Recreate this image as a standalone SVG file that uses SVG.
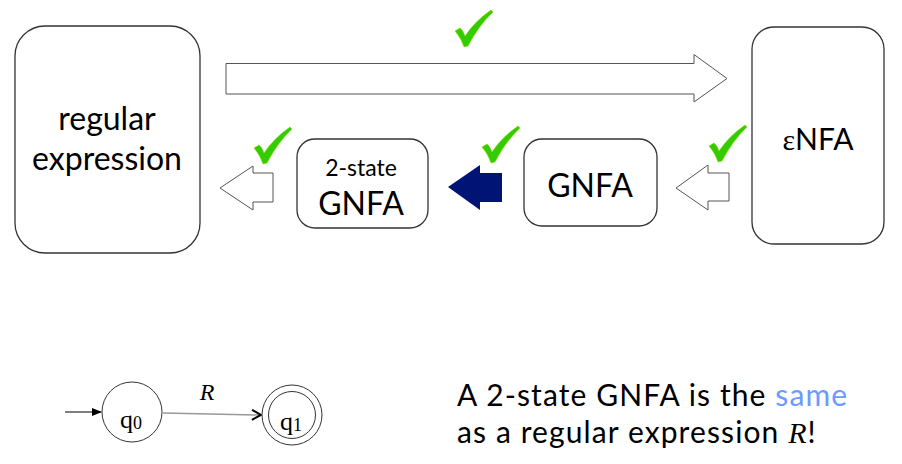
<svg xmlns="http://www.w3.org/2000/svg" width="902" height="464" viewBox="0 0 902 464">
<style>
.box{fill:#fff;stroke:#333;stroke-width:1.3}
.big{font-family:Lato,"Open Sans","Liberation Sans",sans-serif;font-size:32px;fill:#000;text-anchor:middle}
.small{font-size:23px}
.mid{font-size:30px}
.hollow{fill:#fff;stroke:#555;stroke-width:1}
.chk{fill:#3c0;stroke:#8d0;stroke-width:0.6}
.serif{font-family:"Liberation Serif","DejaVu Serif",serif;fill:#000}
.body{font-family:Lato,"Open Sans","Liberation Sans",sans-serif;font-size:30px;letter-spacing:1.1px;fill:#000}
</style>
<defs>
<path id="check" d="M0,21 L5,18 Q8,20 10,26 Q20,11 36,0 L38,2 Q24,15 13,36 L9,37 Q6,28 0,21 Z"/>
<marker id="tri" markerWidth="10" markerHeight="8" refX="9" refY="4" orient="auto" markerUnits="userSpaceOnUse">
<path d="M0,0 L10,4 L0,8 Z" fill="#000"/>
</marker>
<marker id="chev" markerWidth="12" markerHeight="12" refX="10" refY="6" orient="auto" markerUnits="userSpaceOnUse">
<path d="M1,1 L10,6 L1,11" fill="none" stroke="#000" stroke-width="2"/>
</marker>
</defs>
<rect width="902" height="464" fill="#fff"/>

<g id="connectors">
<path class="hollow" d="M226,63.5 L694,63.5 L694,54.5 L727,78.5 L694,102 L694,94 L226,94 Z"/>
<path class="hollow" d="M220,188 L253,166 L253,173 L273,173 L273,202 L253,202 L253,210 Z"/>
<path d="M448,187 L480,165 L480,173 L502,173 L502,202 L480,202 L480,210 Z" fill="#001475"/>
<path class="hollow" d="M676,188 L708,165 L708,173 L729,173 L729,201 L708,201 L708,210 Z"/>
<line x1="65" y1="412" x2="101" y2="412" stroke="#000" stroke-width="1.2" marker-end="url(#tri)"/>
<line x1="163" y1="413" x2="261" y2="415" stroke="#999" stroke-width="1.5" marker-end="url(#chev)"/>
<text class="serif" x="207" y="400" font-size="24" font-style="italic" text-anchor="middle">R</text>
</g>

<g id="checks">
<use href="#check" class="chk" transform="translate(455,10)"/>
<use href="#check" class="chk" transform="translate(254,127)"/>
<use href="#check" class="chk" transform="translate(482,126)"/>
<use href="#check" class="chk" transform="translate(709,125)"/>
</g>

<g id="regex">
<rect class="box" x="15" y="26" width="185" height="227" rx="30"/>
<text class="big" x="107" y="130">regular</text>
<text class="big" x="107" y="170">expression</text>
</g>

<g id="gnfa2">
<rect class="box" x="297" y="139" width="131" height="89" rx="18"/>
<text class="big small" x="361" y="176">2-state</text>
<text class="big" x="361" y="215">GNFA</text>
</g>

<g id="gnfa">
<rect class="box" x="524" y="139" width="133" height="87" rx="18"/>
<text class="big" x="590" y="197">GNFA</text>
</g>

<g id="enfa">
<rect class="box" x="752" y="27" width="132" height="217" rx="22"/>
<text class="big mid" x="818" y="150"><tspan font-family="Liberation Serif,serif">ε</tspan>NFA</text>
</g>

<g id="q0">
<circle cx="132" cy="412" r="30" fill="#fff" stroke="#333" stroke-width="1"/>
<text class="serif" x="131" y="428" font-size="26" text-anchor="middle">q<tspan font-size="18" dy="1">0</tspan></text>
</g>

<g id="q1">
<circle cx="292" cy="415" r="30" fill="#fff" stroke="#333" stroke-width="1"/>
<circle cx="292" cy="415" r="23.5" fill="none" stroke="#333" stroke-width="1"/>
<text class="serif" x="291" y="430" font-size="26" text-anchor="middle">q<tspan font-size="18" dy="1">1</tspan></text>
</g>

<g id="caption">
<text class="body" x="457" y="406">A 2-state GNFA is the <tspan fill="#6b9bff">same</tspan></text>
<text class="body" x="457" y="443">as a regular expression <tspan font-family="Liberation Serif,serif" font-style="italic">R</tspan>!</text>
</g>
</svg>
